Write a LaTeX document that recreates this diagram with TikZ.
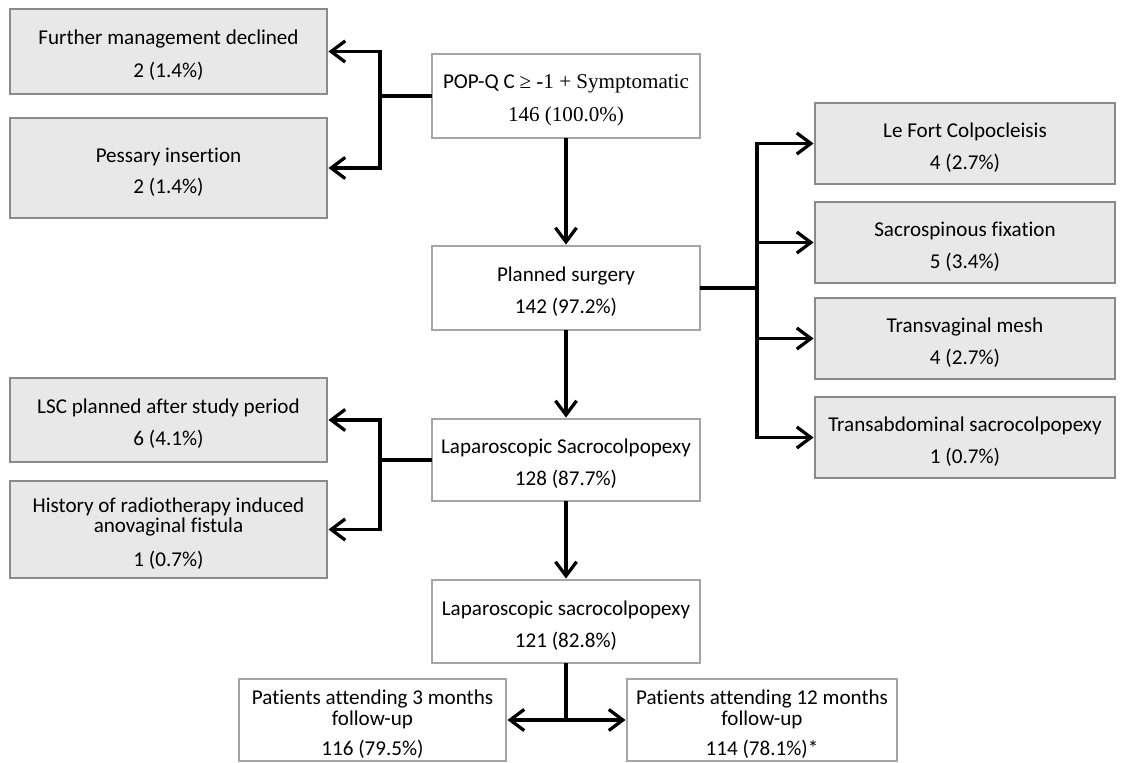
\documentclass[tikz,border=0pt]{standalone}
\usepackage{fontspec}
\setmainfont{Carlito}[Ligatures=NoCommon]
\newfontfamily\timesfont{Liberation Serif}
\usetikzlibrary{arrows.meta}
\definecolor{greyfill}{RGB}{232,232,232}
\definecolor{greyedge}{RGB}{138,138,138}
\definecolor{whiteedge}{RGB}{165,165,165}
\newcommand{\boxfont}{\fontsize{15pt}{14pt}\selectfont}
\newcommand{\padtop}{\rule{0pt}{16pt}}

\begin{document}
\begin{tikzpicture}[x=0.025cm,y=-0.025cm,
    boxsize/.style 2 args={minimum width=#1*0.025cm,minimum height=#2*0.025cm},
    flowbox/.style={draw=whiteedge,fill=white,line width=2.1pt,inner sep=0pt,
      align=center,font=\boxfont},
    exitbox/.style={flowbox,draw=greyedge,fill=greyfill},
    link/.style={line width=2.3pt,line cap=rect},
    flowarrow/.style={link,-{Straight Barb[length=10pt,width=15pt]}}]
  \useasboundingbox (0,0) rectangle (1121,763);
  % main line of the flow
  \node[flowbox,boxsize={268}{84}] (popq) at (566,96)
    {\padtop POP-Q C {\timesfont ≥ -1 + Symptomatic}\\[10pt]{\timesfont 146 (100.0\%)}};
  \node[flowbox,boxsize={268}{84}] (planned) at (566,288)
    {\padtop Planned surgery\\[9pt]142 (97.2\%)};
  \node[flowbox,boxsize={268}{82}] (lsc) at (566,460)
    {\padtop Laparoscopic Sacrocolpopexy\\[9pt]128 (87.7\%)};
  \node[flowbox,boxsize={268}{83}] (lapsac) at (566,621.5)
    {\padtop Laparoscopic sacrocolpopexy\\[9pt]121 (82.8\%)};
  \node[flowbox,boxsize={267}{82}] (fu3) at (372.5,720)
    {\padtop Patients attending 3 months\\[1.5pt]follow-up\\[7pt]116 (79.5\%)};
  \node[flowbox,boxsize={270}{82}] (fu12) at (762,720)
    {\padtop Patients attending 12 months\\[1.5pt]follow-up\\[7pt]114 (78.1\%)*};
  % exclusions
  \node[exitbox,boxsize={317}{85}] (declined) at (168.5,51.5)
    {\padtop Further management declined\\[9.5pt]2 (1.4\%)};
  \node[exitbox,boxsize={317}{100}] (pessary) at (168.5,168)
    {\padtop Pessary insertion\\[8pt]2 (1.4\%)};
  \node[exitbox,boxsize={317}{84}] (lscafter) at (168.5,420)
    {\padtop LSC planned after study period\\[9pt]6 (4.1\%)};
  \node[exitbox,boxsize={317}{97}] (fistula) at (168.5,529.5)
    {\padtop History of radiotherapy induced\\anovaginal fistula\\[10pt]1 (0.7\%)};
  \node[exitbox,boxsize={300}{81}] (lefort) at (965,143.5)
    {\padtop Le Fort Colpocleisis\\[9pt]4 (2.7\%)};
  \node[exitbox,boxsize={300}{81}] (sacrospin) at (965,242.5)
    {\padtop Sacrospinous fixation\\[9pt]5 (3.4\%)};
  \node[exitbox,boxsize={300}{81}] (tvmesh) at (965,338.5)
    {\padtop Transvaginal mesh\\[9pt]4 (2.7\%)};
  \node[exitbox,boxsize={300}{81}] (abdominal) at (965,437.5)
    {\padtop Transabdominal sacrocolpopexy\\[9pt]1 (0.7\%)};
  \coordinate (leftsplit) at (380,0);
  \coordinate (rightsplit) at (757,0);
  \draw[flowarrow] (popq) -- (planned);
  \draw[flowarrow] (planned) -- (lsc);
  \draw[flowarrow] (lsc) -- (lapsac);
  \foreach \target in {declined,pessary}
    \draw[flowarrow] (popq.west) -- (popq.west -| leftsplit) |- (\target.east);
  \foreach \target in {lscafter,fistula}
    \draw[flowarrow] (lsc.west) -- (lsc.west -| leftsplit) |- (\target.east);
  \foreach \target in {lefort,sacrospin,tvmesh,abdominal}
    \draw[flowarrow] (planned.east) -- (planned.east -| rightsplit) |- (\target.west);
  \draw[flowarrow] (lapsac.south) |- (fu3.east);
  \draw[flowarrow] (lapsac.south) |- (fu12.west);
\end{tikzpicture}
\end{document}
